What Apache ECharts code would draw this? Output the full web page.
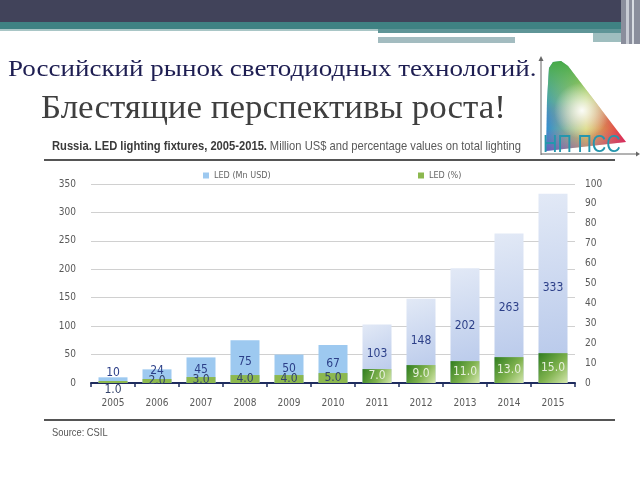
<!DOCTYPE html>
<html><head><meta charset="utf-8">
<script src="https://cdn.jsdelivr.net/npm/echarts@6/dist/echarts.min.js"></script>
<style>html,body{margin:0;padding:0;background:#fff}#c{width:640px;height:480px}</style>
</head><body><div id="c"></div>
<script>
const years = ['2005','2006','2007','2008','2009','2010','2011','2012','2013','2014','2015'];
const ledMnUsd = [10,24,45,75,50,67,103,148,202,263,333];
const ledPct = [1.0,2.0,3.0,4.0,4.0,5.0,7.0,9.0,11.0,13.0,15.0];
const seriesNames = ['LED (Mn USD)','LED (%)'];
const title1 = 'Российский рынок светодиодных технологий.';
const title2 = 'Блестящие перспективы роста!';
const chartTitleBold = 'Russia. LED lighting fixtures, 2005-2015.';
const chartTitleRest = 'Million US$ and percentage values on total lighting';
const sourceText = 'Source: CSIL';
const logoText = 'НП ПСС';

const narrow = '"DejaVu Sans Condensed","Liberation Sans Narrow","Liberation Sans",Arial,sans-serif';
const sans = '"Liberation Sans",Arial,sans-serif';
const serif = '"Liberation Serif","Times New Roman",serif';
const blueSolid = '#9dc9f0';
const blueGrad = {type:'linear',x:0,y:0,x2:1,y2:1,colorStops:[{offset:0,color:'#e2e9f6'},{offset:1,color:'#b3c5e9'}]};
const greenSolid = '#8cb84f';
const greenGrad = {type:'linear',x:0,y:0,x2:1,y2:1,colorStops:[{offset:0,color:'#2f7d1f'},{offset:0.55,color:'#7fb24e'},{offset:1,color:'#d4e7ae'}]};

const chart = echarts.init(document.getElementById('c'));

const blueData = ledMnUsd.map((v,i)=>{
  const o = {value:v, itemStyle:{color: i<6 ? blueSolid : blueGrad}};
  if (i===0) o.label = {offset:[0,-7]};
  if (i===1) o.label = {offset:[0,-5]};
  return o;
});
const greenData = ledPct.map((v,i)=>{
  const o = {value:v, itemStyle:{color: i<6 ? greenSolid : greenGrad},
    label:{color: i<6 ? '#34446c' : '#e6efdc'}};
  if (i===0) o.label.offset = [0,8];
  return o;
});

// logo shape (decorative)
const logoPts = [[549,68],[553,62],[561,61],[568,66],[626,142],[546,151],[547,100]];

chart.setOption({
  animation:false,
  grid:{left:91,right:65,top:184,bottom:97},
  legend:[
    {data:[seriesNames[0]],left:198,top:166,itemWidth:6,itemHeight:6,icon:'rect',
     textStyle:{fontFamily:narrow,fontSize:9,color:'#666'}},
    {data:[seriesNames[1]],left:413,top:166,itemWidth:6,itemHeight:6,icon:'rect',
     textStyle:{fontFamily:narrow,fontSize:9,color:'#666'}}
  ],
  xAxis:{type:'category',data:years,
    axisLine:{lineStyle:{color:'#1f2c5e',width:2}},
    axisTick:{show:true,length:4,lineStyle:{color:'#1f2c5e',width:1.5}},
    axisLabel:{fontFamily:narrow,fontSize:10,color:'#595959',margin:15}},
  yAxis:[
    {type:'value',min:0,max:350,interval:50,
     axisLine:{show:false},axisTick:{show:false},
     axisLabel:{fontFamily:narrow,fontSize:10,color:'#595959',margin:15},
     splitLine:{lineStyle:{color:'#d0d0d0',width:1}}},
    {type:'value',min:0,max:100,interval:10,position:'right',
     axisLine:{show:false},axisTick:{show:false},
     axisLabel:{fontFamily:narrow,fontSize:10,color:'#595959',margin:10},
     splitLine:{show:false}}
  ],
  series:[
    {name:seriesNames[0],type:'bar',yAxisIndex:0,barWidth:29,data:blueData,
     itemStyle:{color:blueSolid},
     label:{show:true,position:'inside',fontFamily:narrow,fontSize:12,color:'#2c3f88',
       formatter:p=>String(p.value)},z:2},
    {name:seriesNames[1],type:'bar',yAxisIndex:1,barWidth:29,barGap:'-100%',data:greenData,
     itemStyle:{color:greenSolid},
     label:{show:true,position:'inside',fontFamily:narrow,fontSize:12,
       formatter:p=>Number(p.value).toFixed(1)},z:3}
  ],
  graphic:[
    // header bands
    {type:'rect',shape:{x:0,y:0,width:640,height:22},style:{fill:'#41435a'},z:-1},
    {type:'rect',shape:{x:0,y:22,width:640,height:7},style:{fill:'#3f8283'},z:-1},
    {type:'rect',shape:{x:0,y:29,width:378,height:2},style:{fill:'#a9c6c6'},z:-1},
    {type:'rect',shape:{x:378,y:29,width:262,height:4},style:{fill:'#5f9597'},z:-1},
    {type:'rect',shape:{x:378,y:33,width:215,height:3},style:{fill:'#ffffff'},z:-1},
    {type:'rect',shape:{x:593,y:33,width:28,height:9},style:{fill:'#9fbebf'},z:-1},
    {type:'rect',shape:{x:378,y:37,width:137,height:6},style:{fill:'#a3bcc0'},z:-1},
    {type:'rect',shape:{x:621,y:0,width:19,height:44},style:{fill:'#8a8e9c'},z:-1},
    {type:'rect',shape:{x:626,y:0,width:3,height:44},style:{fill:'#c8ccd4'},z:-1},
    {type:'rect',shape:{x:632,y:0,width:2,height:44},style:{fill:'#d8dce2'},z:-1},
    // slide titles
    {type:'text',x:8,y:70,scaleX:1.15,style:{text:title1,font:'23.5px '+serif,fill:'#1e1e52',verticalAlign:'middle'}},
    {type:'text',x:41,y:109,scaleX:1.06,style:{text:title2,font:'33px '+serif,fill:'#3f3f3f',verticalAlign:'middle'}},
    // logo
    {type:'polygon',shape:{points:logoPts},style:{fill:{type:'linear',x:0,y:0,x2:1,y2:0,colorStops:[{offset:0,color:'#2f8fd0'},{offset:0.5,color:'#d0d060'},{offset:1,color:'#e8243f'}]}},z:5},
    {type:'polygon',shape:{points:logoPts},style:{fill:{type:'linear',x:0,y:0,x2:0,y2:1,colorStops:[{offset:0,color:'rgba(70,170,70,1)'},{offset:0.45,color:'rgba(120,200,90,0.3)'},{offset:0.75,color:'rgba(200,60,160,0)'},{offset:1,color:'rgba(150,50,170,0.5)'}]}},z:6},
    {type:'polygon',shape:{points:logoPts},style:{fill:{type:'radial',x:0.45,y:0.55,r:0.35,colorStops:[{offset:0,color:'rgba(255,255,255,0.95)'},{offset:1,color:'rgba(255,255,255,0)'}]}},z:7},
    {type:'line',shape:{x1:541,y1:60,x2:541,y2:155},style:{stroke:'#666',lineWidth:1},z:8},
    {type:'line',shape:{x1:541,y1:154,x2:636,y2:154},style:{stroke:'#666',lineWidth:1},z:8},
    {type:'polygon',shape:{points:[[636,151.5],[640,154],[636,156.5]]},style:{fill:'#666'},z:8},
    {type:'polygon',shape:{points:[[538.5,61],[541,56],[543.5,61]]},style:{fill:'#666'},z:8},
    {type:'text',x:543,y:134,scaleX:0.87,style:{text:logoText,font:'23px '+sans,fill:'#2596ad'},z:9},
    // chart title and rules
    {type:'text',x:52,y:140,scaleX:0.86,style:{rich:{b:{fontFamily:sans,fontSize:13,fontWeight:'bold',fill:'#3a3a3a'},n:{fontFamily:sans,fontSize:13,fill:'#5a5a5a'}},text:'{b|'+chartTitleBold+'} {n|'+chartTitleRest+'}'}},
    {type:'line',shape:{x1:44,y1:160,x2:615,y2:160},style:{stroke:'#555',lineWidth:2}},
    {type:'line',shape:{x1:44,y1:420,x2:615,y2:420},style:{stroke:'#555',lineWidth:2}},
    {type:'text',x:52,y:427,scaleX:0.85,style:{text:sourceText,font:'11px '+sans,fill:'#555'}}
  ]
});
</script></body></html>
